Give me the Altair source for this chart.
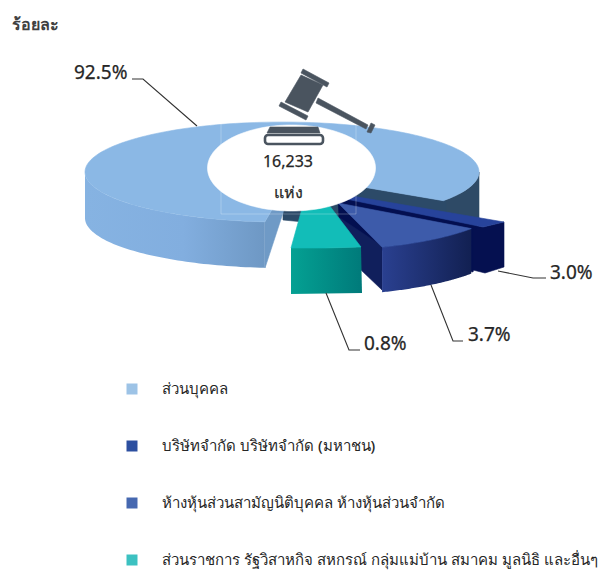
import math
import altair as alt
import pandas as pd

# ---- data ----
categories = ["ส่วนบุคคล", "บริษัทจำกัด บริษัทจำกัด (มหาชน)",
              "ห้างหุ้นส่วนสามัญนิติบุคคล ห้างหุ้นส่วนจำกัด",
              "ส่วนราชการ รัฐวิสาหกิจ สหกรณ์ กลุ่มแม่บ้าน สมาคม มูลนิธิ และอื่นๆ"]
shares = [92.5, 3.0, 3.7, 0.8]
total_units = "16,233"
unit_word = "แห่ง"
y_unit = "ร้อยละ"
legend_colors = ["#9DC3E6", "#2C4FA0", "#4668B0", "#3CC1C1"]

# ---- drawing geometry of the exploded 3D pie (screen-like scale units) ----
FONT = "Noto Sans"
THAI = "Noto Sans"
TEXT = "#262626"
W, H = 590, 562
sx = alt.Scale(domain=[8, 598], range=[0, W], nice=False, zero=False)
sy = alt.Scale(domain=[570, 8], range=[H, 0], nice=False, zero=False)
X = alt.X("x:Q", scale=sx, axis=None)
Y = alt.Y("y:Q", scale=sy, axis=None)
CX, CY, RX, RY, DEPTH = 282, 172, 197, 50, 46


def arc(cx, cy, rx, ry, t0, t1, n=60, dy=0):
    return [(cx + rx * math.cos(math.radians(t0 + (t1 - t0) * k / n)),
             cy + dy + ry * math.sin(math.radians(t0 + (t1 - t0) * k / n))) for k in range(n + 1)]


def poly(pts, fill, sw=0.6):
    pts = list(pts) + [pts[0]]
    df = pd.DataFrame({"x": [p[0] for p in pts], "y": [p[1] for p in pts], "i": range(len(pts))})
    is_flat = isinstance(fill, str)
    return alt.Chart(df).mark_line(fill=fill, stroke=fill if is_flat else "transparent",
                                   strokeWidth=sw if is_flat else 0,
                                   clip=False).encode(x=X, y=Y, order="i:Q")


def grad(*stops):
    return alt.Gradient(gradient="linear", x1=0, x2=1, y1=0, y2=0,
                        stops=[alt.GradientStop(offset=o, color=c) for o, c in stops])


def lead(pts, w=1.1):
    df = pd.DataFrame({"x": [p[0] for p in pts], "y": [p[1] for p in pts], "i": range(len(pts))})
    return alt.Chart(df).mark_line(color="#333333", strokeWidth=w).encode(x=X, y=Y, order="i:Q")


def label(txt, x, y, size, align="left", weight="normal", color=TEXT, font=FONT, sw=0.25):
    df = pd.DataFrame({"x": [x], "y": [y], "t": [txt]})
    return alt.Chart(df).mark_text(align=align, baseline="middle", fontSize=size, fontWeight=weight,
                                   color=color, font=font, stroke=color, strokeWidth=sw).encode(x=X, y=Y, text="t:N")


layers = []
APEX = (292, 175)
# main slice: walls
layers.append(poly(arc(CX, CY, RX, RY, 0, 35) + arc(CX, CY, RX, RY, 35, 0, dy=DEPTH), "#2E4A66"))
layers.append(poly([APEX, (446, 201), (446, 247), (304, 222), (283, 220), (283, 205)], "#2C4A68"))
layers.append(poly([(265, 222), (290, 178), (283, 213), (265, 268)], "#6F9AC6"))
layers.append(poly(arc(CX, CY, RX, RY, 95, 180) + arc(CX, CY, RX, RY, 180, 95, dy=DEPTH),
                   grad((0, "#86B3E2"), (0.55, "#82AEDF"), (1, "#6E98C4"))))
# main slice: top
layers.append(poly([APEX] + arc(CX, CY, RX, RY, 35, -265, n=160), "#8BB8E5"))
# 3.0 %
layers.append(poly([(338, 197), (483, 227), (473, 272), (340, 240)], "#030F50"))
layers.append(poly([(483, 227), (504, 222), (504, 267), (485, 273), (473, 270), (473, 230)], "#051050"))
layers.append(poly([(352, 196), (504, 222), (483, 227), (346, 199)], "#27439B"))
# 3.7 %
C37 = (307, 201)
layers.append(poly([(322, 206), (382, 246), (382, 290), (361, 270), (355, 240)], "#101F5C"))
layers.append(poly(arc(C37[0], C37[1], RX, RY, 33.5, 67.6) + arc(C37[0], C37[1], RX, RY, 67.6, 33.5, dy=45),
                   grad((0, "#2A4090"), (1, "#122052"))))
layers.append(poly([(338, 203)] + arc(C37[0], C37[1], RX, RY, 33.5, 67.6), "#3D5BAA"))
# 0.8 %
layers.append(poly([(291, 248), (361, 247), (362, 293), (291, 294)], grad((0, "#04A193"), (1, "#007A7A"))))
layers.append(poly([(303, 205), (329, 205), (361, 247), (325, 248), (291, 248)], "#12BDB8"))
# faint frame and the white hole
frame = pd.DataFrame({"x": [221], "x2": [356], "y": [122], "y2": [214]})
layers.append(alt.Chart(frame).mark_rect(fillOpacity=0, stroke="white", strokeOpacity=0.25, strokeWidth=1)
              .encode(x=X, x2="x2:Q", y=Y, y2="y2:Q"))
layers.append(poly(arc(291.5, 168, 84, 43, 0, 360, n=120), "#FFFFFF"))
# gavel
G = "#4A545F"
layers.append(poly([(301, 75), (323, 85), (308, 112), (285, 102)], G))
layers.append(poly([(303, 69), (329, 83), (327, 87), (301, 73)], G))
layers.append(poly([(281, 102), (308, 116), (306, 120), (279, 106)], G))
layers.append(poly([(318, 98), (368, 125), (366, 129), (316, 103)], G))
layers.append(poly([(371, 123), (375, 125), (371, 133), (367, 132)], G))
layers.append(poly([(270, 127), (318, 127), (320, 133), (267, 133)], G))
block = pd.DataFrame({"x": [265], "x2": [323], "y": [135], "y2": [144]})
layers.append(alt.Chart(block).mark_rect(fill="white", stroke=G, strokeWidth=2.6, cornerRadius=3)
              .encode(x=X, x2="x2:Q", y=Y, y2="y2:Q"))
# centre text
layers.append(label(total_units, 288, 162, 16, "center"))
layers.append(label(unit_word, 288, 193, 16, "center"))
layers.append(label(y_unit, 12, 25, 16, weight="bold", color="#404040", sw=0))
# leaders and percentages
layers.append(lead([(132, 79), (143, 79), (197, 126)]))
layers.append(lead([(546, 278), (533, 278), (498, 271)]))
layers.append(lead([(463, 341), (453, 341), (431, 285)]))
layers.append(lead([(360, 350), (349, 350), (326, 293)]))
layers.append(label(f"{shares[0]}%", 74, 73, 19))
layers.append(label(f"{shares[1]}%", 550, 273, 19))
layers.append(label(f"{shares[2]}%", 468, 335, 19))
layers.append(label(f"{shares[3]}%", 364, 344, 19))

# legend, carried by invisible points so the symbols take the legend colours
leg_df = pd.DataFrame({"c": categories, "x": [10] * 4, "y": [10] * 4})
layers.append(alt.Chart(leg_df).mark_point(filled=True, opacity=0, shape="square").encode(
    x=X, y=Y,
    color=alt.Color("c:N", sort=categories,
                    scale=alt.Scale(domain=categories, range=legend_colors),
                    legend=alt.Legend(orient="none", legendX=116.5, legendY=373.5, title=None,
                                      symbolType="square", symbolSize=121, symbolOpacity=1,
                                      symbolStrokeWidth=0, rowPadding=41, labelOffset=22.6, labelLimit=600,
                                      labelFontSize=15, labelFontWeight=500, labelFont=THAI,
                                      labelColor=TEXT, columns=1))))

chart = alt.layer(*layers).properties(
    width=W, height=H, padding=0, autosize=alt.AutoSizeParams(type="none")
).configure_view(stroke=None)
chart.save("out.html", embed_options={"renderer": "svg", "actions": False})
